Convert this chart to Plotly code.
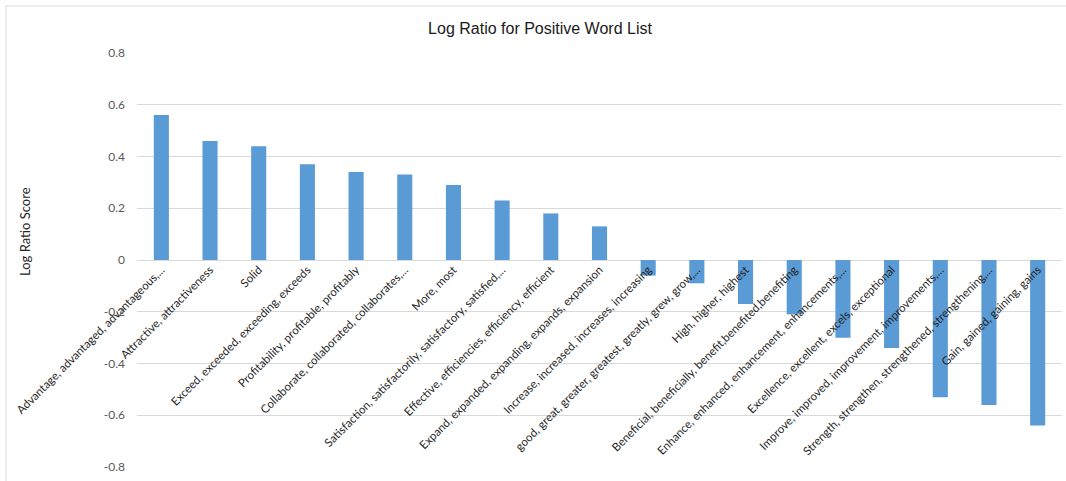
import plotly.graph_objects as go

categories = [
    "Advantage, advantaged, advantageous,...",
    "Attractive, attractiveness",
    "Solid",
    "Exceed, exceeded, exceeding, exceeds",
    "Profitability, profitable, profitably",
    "Collaborate, collaborated, collaborates,...",
    "More, most",
    "Satisfaction, satisfactorily, satisfactory, satisfied,...",
    "Effective, efficiencies, efficiency, efficient",
    "Expand, expanded, expanding, expands, expansion",
    "Increase, increased, increases, increasing",
    "good, great, greater, greatest, greatly, grew, grow,...",
    "High, higher, highest",
    "Beneficial, beneficially, benefit,benefited,benefiting",
    "Enhance, enhanced, enhancement, enhancements,...",
    "Excellence, excellent, excels, exceptional",
    "Improve, improved, improvement, improvements,...",
    "Strength, strengthen, strengthened, strengthening,...",
    "Gain, gained, gaining, gains",
]
scores = [0.56, 0.46, 0.44, 0.37, 0.34, 0.33, 0.29, 0.23, 0.18, 0.13,
          -0.06, -0.09, -0.17, -0.21, -0.30, -0.34, -0.53, -0.56, -0.64]
y_ticks = [0.8, 0.6, 0.4, 0.2, 0, -0.2, -0.4, -0.6, -0.8]
y_tick_text = ["0.8", "0.6", "0.4", "0.2", "0", "-0.2", "-0.4", "-0.6", "-0.8"]

W, H = 1066, 481
L, R, T, B = 137, 4, 53, 14
pw, ph = W - L - R, H - T - B

fig = go.Figure(go.Bar(x=categories, y=scores, marker=dict(color="#5b9bd5", line=dict(width=0)),
                       hoverinfo="x+y"))

fig.update_layout(
    width=W, height=H,
    margin=dict(l=L, r=R, t=T, b=B),
    paper_bgcolor="white", plot_bgcolor="white",
    bargap=0.69,
    showlegend=False,
    title=dict(text="Log Ratio for Positive Word List", x=540 / W, xanchor="center",
               y=1 - 28 / H, yanchor="middle", yref="container",
               font=dict(family="Liberation Sans", size=16, color="#1a1a1a")),
    xaxis=dict(anchor="free", position=0.5, tickangle=-45, showgrid=False, showline=False,
               ticks="", zeroline=False, automargin=False,
               tickfont=dict(family="Lato", size=11.5, color="#1f1f1f")),
    yaxis=dict(range=[-0.8, 0.8], tickvals=y_ticks, ticktext=y_tick_text, showgrid=True,
               gridcolor="#d9d9d9", gridwidth=1, zeroline=True, zerolinecolor="#d9d9d9",
               zerolinewidth=1, showline=False, ticks="", ticklabelstandoff=11, automargin=False,
               tickfont=dict(family="Lato", size=12, color="#595959")),
    annotations=[dict(text="Log Ratio Score", xref="paper", yref="paper",
                      x=(25 - L) / pw, y=(H - B - 232) / ph, xanchor="center", yanchor="middle",
                      textangle=-90, showarrow=False,
                      font=dict(family="Lato", size=13, color="#262626"))],
    shapes=[dict(type="rect", xref="paper", yref="paper",
                 x0=(6 - L) / pw, x1=(1070 - L) / pw,
                 y0=(H - B - 485) / ph, y1=(H - B - 6) / ph,
                 line=dict(color="#d9d9d9", width=1), fillcolor="rgba(0,0,0,0)", layer="below")],
)

fig.write_html("out.html")
